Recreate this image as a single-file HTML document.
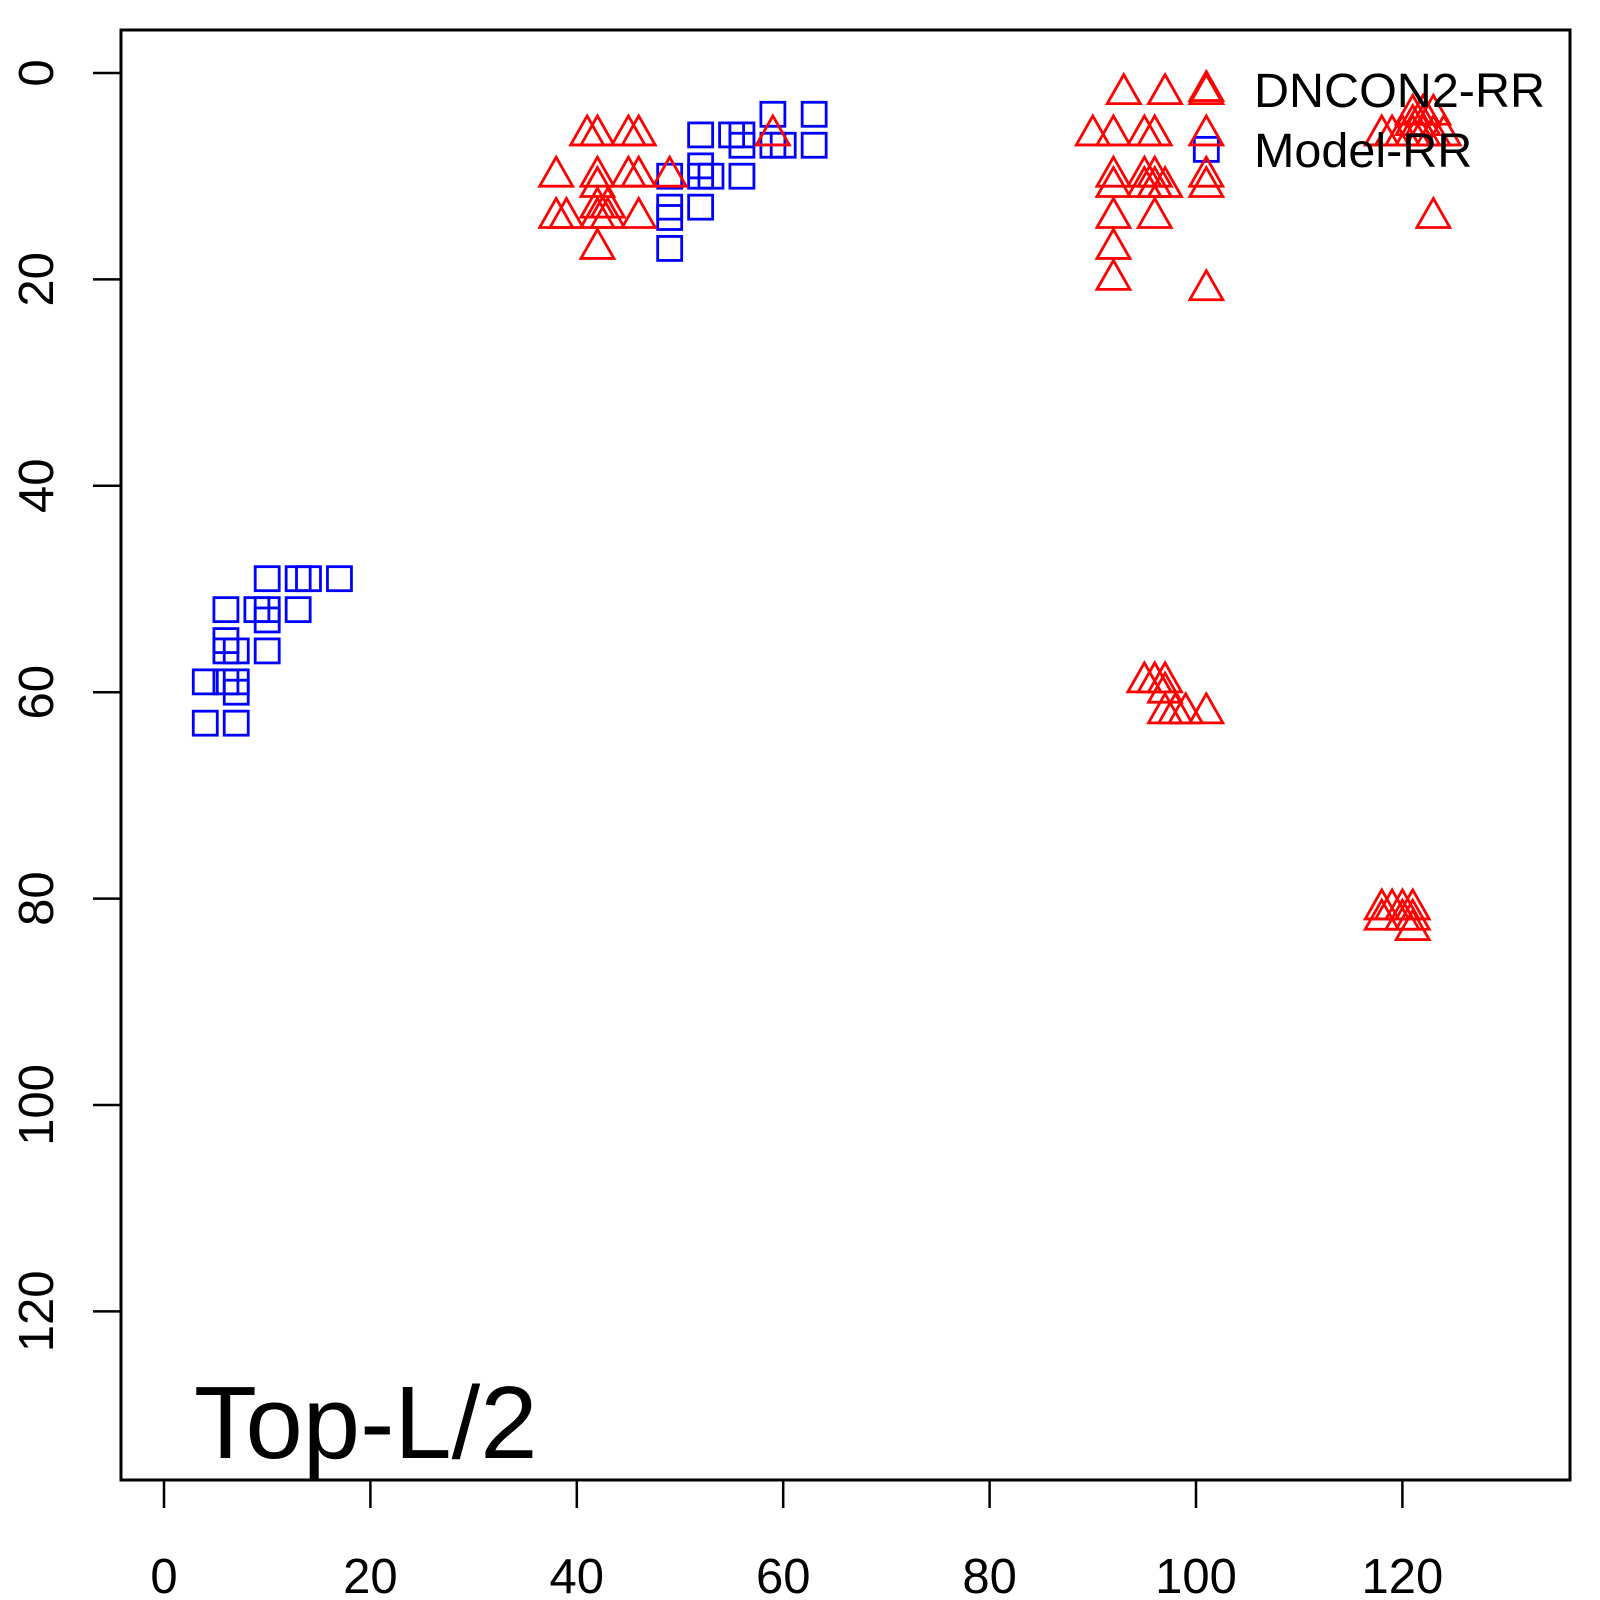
<!DOCTYPE html>
<html><head><meta charset="utf-8"><style>html,body{margin:0;padding:0;background:#fff}svg{display:block}</style></head>
<body>
<svg id="s" width="1600" height="1600" xmlns="http://www.w3.org/2000/svg" font-family="Liberation Sans, Arial, sans-serif">
<rect x="0" y="0" width="1600" height="1600" fill="#fff"/>
<rect x="121" y="30" width="1449" height="1450" fill="none" stroke="#000" stroke-width="3"/>
<g id="ax" stroke="#000" stroke-width="2.5"></g>
<g id="lbl" font-size="49" fill="#000"></g>
<g id="pts" fill="none" stroke-width="2.8"></g>
<text x="1254" y="107" font-size="48.5">DNCON2-RR</text>
<text x="1254" y="167" font-size="48.5">Model-RR</text>
<text x="194" y="1458" font-size="103">Top-L/2</text>
</svg>
<script>
var NS="http://www.w3.org/2000/svg";
function X(v){return 164+v*10.32}function Y(v){return 73+v*10.32}
function el(t,a,p){var e=document.createElementNS(NS,t);for(var k in a)e.setAttribute(k,a[k]);document.getElementById(p).appendChild(e);return e}
el("line",{x1:X(0),x2:X(120),y1:1480,y2:1480},"ax");
el("line",{x1:121,x2:121,y1:Y(0),y2:Y(120)},"ax");
for(var v=0;v<=120;v+=20){
 el("line",{x1:X(v),x2:X(v),y1:1480,y2:1508},"ax");
 el("line",{x1:93,x2:121,y1:Y(v),y2:Y(v)},"ax");
 var t=el("text",{x:X(v),y:1593,"text-anchor":"middle"},"lbl");t.textContent=v;
 var t2=el("text",{x:0,y:0,"text-anchor":"middle",transform:"translate(53,"+Y(v)+") rotate(-90)"},"lbl");t2.textContent=v;
}
var tri=[[93,2],[97,2],[101,1.7],[101,2],[90,6],[92,6],[95,6],[96,6],[101,6],[92,10],[92,11],[95,10],[96,10],[96,11],[97,11],[95,11],[101,10],[101,11],[92,14],[96,14],[92,17],[92,20],[101,21],
[121,4],[122,4],[123,4],[121,5],[122,5],[118,6],[119,6],[120,6],[121,6],[122,6],[123,6],[124,6],[123,14],
[41,6],[42,6],[45,6],[46,6],[38,10],[42,10],[45,10],[46,10],[49,10],[42,11],[42,13],[43,13],[38,14],[39,14],[42,14],[43,14],[46,14],[42,17],[59,6],
[95,59],[96,59],[97,59],[97,60],[97,62],[98,62],[99,62],[101,62],[118,81],[119,81],[120,81],[121,81],[118,82],[120,82],[121,82],[121,83]];
var sq=[[59,4],[63,4],[52,6],[55,6],[56,6],[56,7],[59,7],[60,7],[63,7],[49,10],[52,9],[52,10],[53,10],[56,10],[49,13],[49,14],[52,13],[49,17],[101,7.4],
[10,49],[13,49],[14,49],[17,49],[6,52],[9,52],[10,52],[13,52],[10,53],[6,55],[6,56],[7,56],[10,56],[4,59],[6,59],[7,59],[7,60],[4,63],[7,63]];
sq.forEach(function(p){var x=X(p[0]),y=Y(p[1]);el("rect",{x:x-12,y:y-12,width:24,height:24,stroke:"#0000ff"},"pts")});
tri.forEach(function(p){var x=X(p[0]),y=Y(p[1]);el("polygon",{points:(x-16.5)+","+(y+10)+" "+(x+16.5)+","+(y+10)+" "+x+","+(y-19),stroke:"#ff0000"},"pts")});
</script>
</body></html>
